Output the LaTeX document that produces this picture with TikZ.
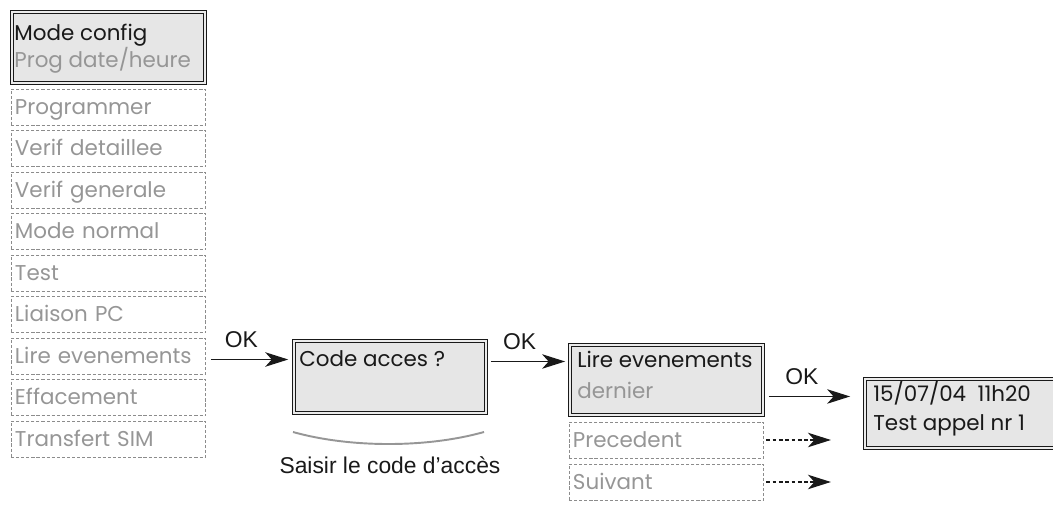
\documentclass[tikz,border=0pt]{standalone}
\usepackage{fontspec}
\setmainfont{Liberation Sans}
\newfontfamily\lcdfont{Poppins}
\usetikzlibrary{arrows.meta,positioning,calc}
\definecolor{screen}{RGB}{230,230,230}
\definecolor{dimtext}{RGB}{150,150,150}
\definecolor{dashgray}{RGB}{140,140,140}
\definecolor{ink}{RGB}{25,25,25}
\tikzset{
  >={Stealth[length=4.6mm,width=2.9mm,inset=1.3mm]},
  lcd/.style={font=\lcdfont\fontsize{12.2}{14}\selectfont,text=#1,inner sep=0pt,anchor=base west},
  lcd/.default=ink,
  screenbox/.style={draw=ink,line width=0.55pt,double=white!92!black,double distance=1.1pt,
    fill=screen,anchor=north west,inner sep=0pt,minimum width=#1},
  menuitem/.style={draw=dashgray,line width=0.55pt,dash pattern=on 1.8pt off 1.1pt,
    anchor=north west,minimum width=3.9cm,minimum height=0.72cm,text width=3.74cm,
    inner xsep=0.08cm,inner ysep=0pt,align=left,text height=8.5pt,text depth=0pt,
    font=\lcdfont\fontsize{12.2}{14}\selectfont,text=dimtext},
  flow/.style={->,line width=0.7pt,draw=ink},
  dflow/.style={->,line width=0.7pt,draw=ink,dash pattern=on 2.2pt off 1.4pt},
  oklabel/.style={font=\fontsize{13}{15}\selectfont,text=ink,inner sep=0pt,above=6.5pt},
}
\begin{document}
\begin{tikzpicture}[x=0.02cm,y=-0.02cm]
  \clip (0,0) rectangle (1053,508);
  % main menu
  \node[screenbox=3.86cm,minimum height=1.42cm] (cfg) at (11.5,11.5) {};
  \node[lcd] (cfgA) at ([shift={(2.5,28.5)}]cfg.north west) {Mode config};
  \node[lcd=dimtext] (cfgB) at ([shift={(2.5,56)}]cfg.north west) {Prog date/heure};
  \foreach \t [count=\i] in {Programmer,Verif detaillee,Verif generale,Mode normal,
    Test,Liaison PC,Lire evenements,Effacement,Transfert SIM}
    \node[menuitem] (m\i) at (10.5,{88.5+41.5*(\i-1)}) {\t};

  % access code
  \node[screenbox=3.84cm,minimum height=1.44cm] (code) at (293.5,340.5) {};
  \node[lcd] (codeA) at ([shift={(5.5,25.5)}]code.north west) {Code acces ?};
  \draw[flow,shorten <=2.5pt,shorten >=3pt] ([yshift=-2pt]m7.east) -- ([yshift=-2pt]m7.east -| code.west)
    node[oklabel,pos=0.4] (ok1) {OK};
  \draw[dimtext,line width=1.1pt] (293,432) .. controls (350,448) and (427,448) .. (484,432);
  \node[font=\fontsize{13}{15}\selectfont,text=ink,anchor=base,inner sep=0pt] (hint) at (390,473) {Saisir le code d’accès};

  % events
  \node[screenbox=3.86cm,minimum height=1.4cm] (evt) at (569.5,344.5) {};
  \node[lcd] (evtA) at ([shift={(7.5,22.5)}]evt.north west) {Lire evenements};
  \node[lcd=dimtext] (evtB) at ([shift={(7.5,53.5)}]evt.north west) {dernier};
  \node[menuitem] (prec) at (568.5,421.5) {Precedent};
  \node[menuitem] (suiv) at (568.5,463.5) {Suivant};
  \draw[flow,shorten <=2.5pt,shorten >=2.5pt] ([yshift=0.31cm]code.east) -- ([yshift=0.31cm]code.east -| evt.west)
    node[oklabel,pos=0.4] (ok2) {OK};
  \coordinate (precEnd) at ([xshift=1.33cm]prec.east);
  \coordinate (suivEnd) at ([xshift=1.33cm]suiv.east);
  \draw[dflow,shorten <=1pt] (prec.east) -- (precEnd);
  \draw[dflow,shorten <=1pt] (suiv.east) -- (suivEnd);

  % last event
  \node[screenbox=4.4cm,minimum height=1.38cm] (fin) at (864.5,378.5) {};
  \node[lcd] (finA) at ([shift={(8.5,22.5)}]fin.north west) {15/07/04\ \ 11h20};
  \node[lcd] (finB) at ([shift={(8.5,51.5)}]fin.north west) {Test appel nr 1};
  \draw[flow,shorten <=3.1pt,shorten >=8.2pt] ([yshift=-0.33cm]evt.east) -- ([yshift=-0.33cm]evt.east -| fin.west)
    node[oklabel,pos=0.38] (ok3) {OK};
\end{tikzpicture}
\end{document}
